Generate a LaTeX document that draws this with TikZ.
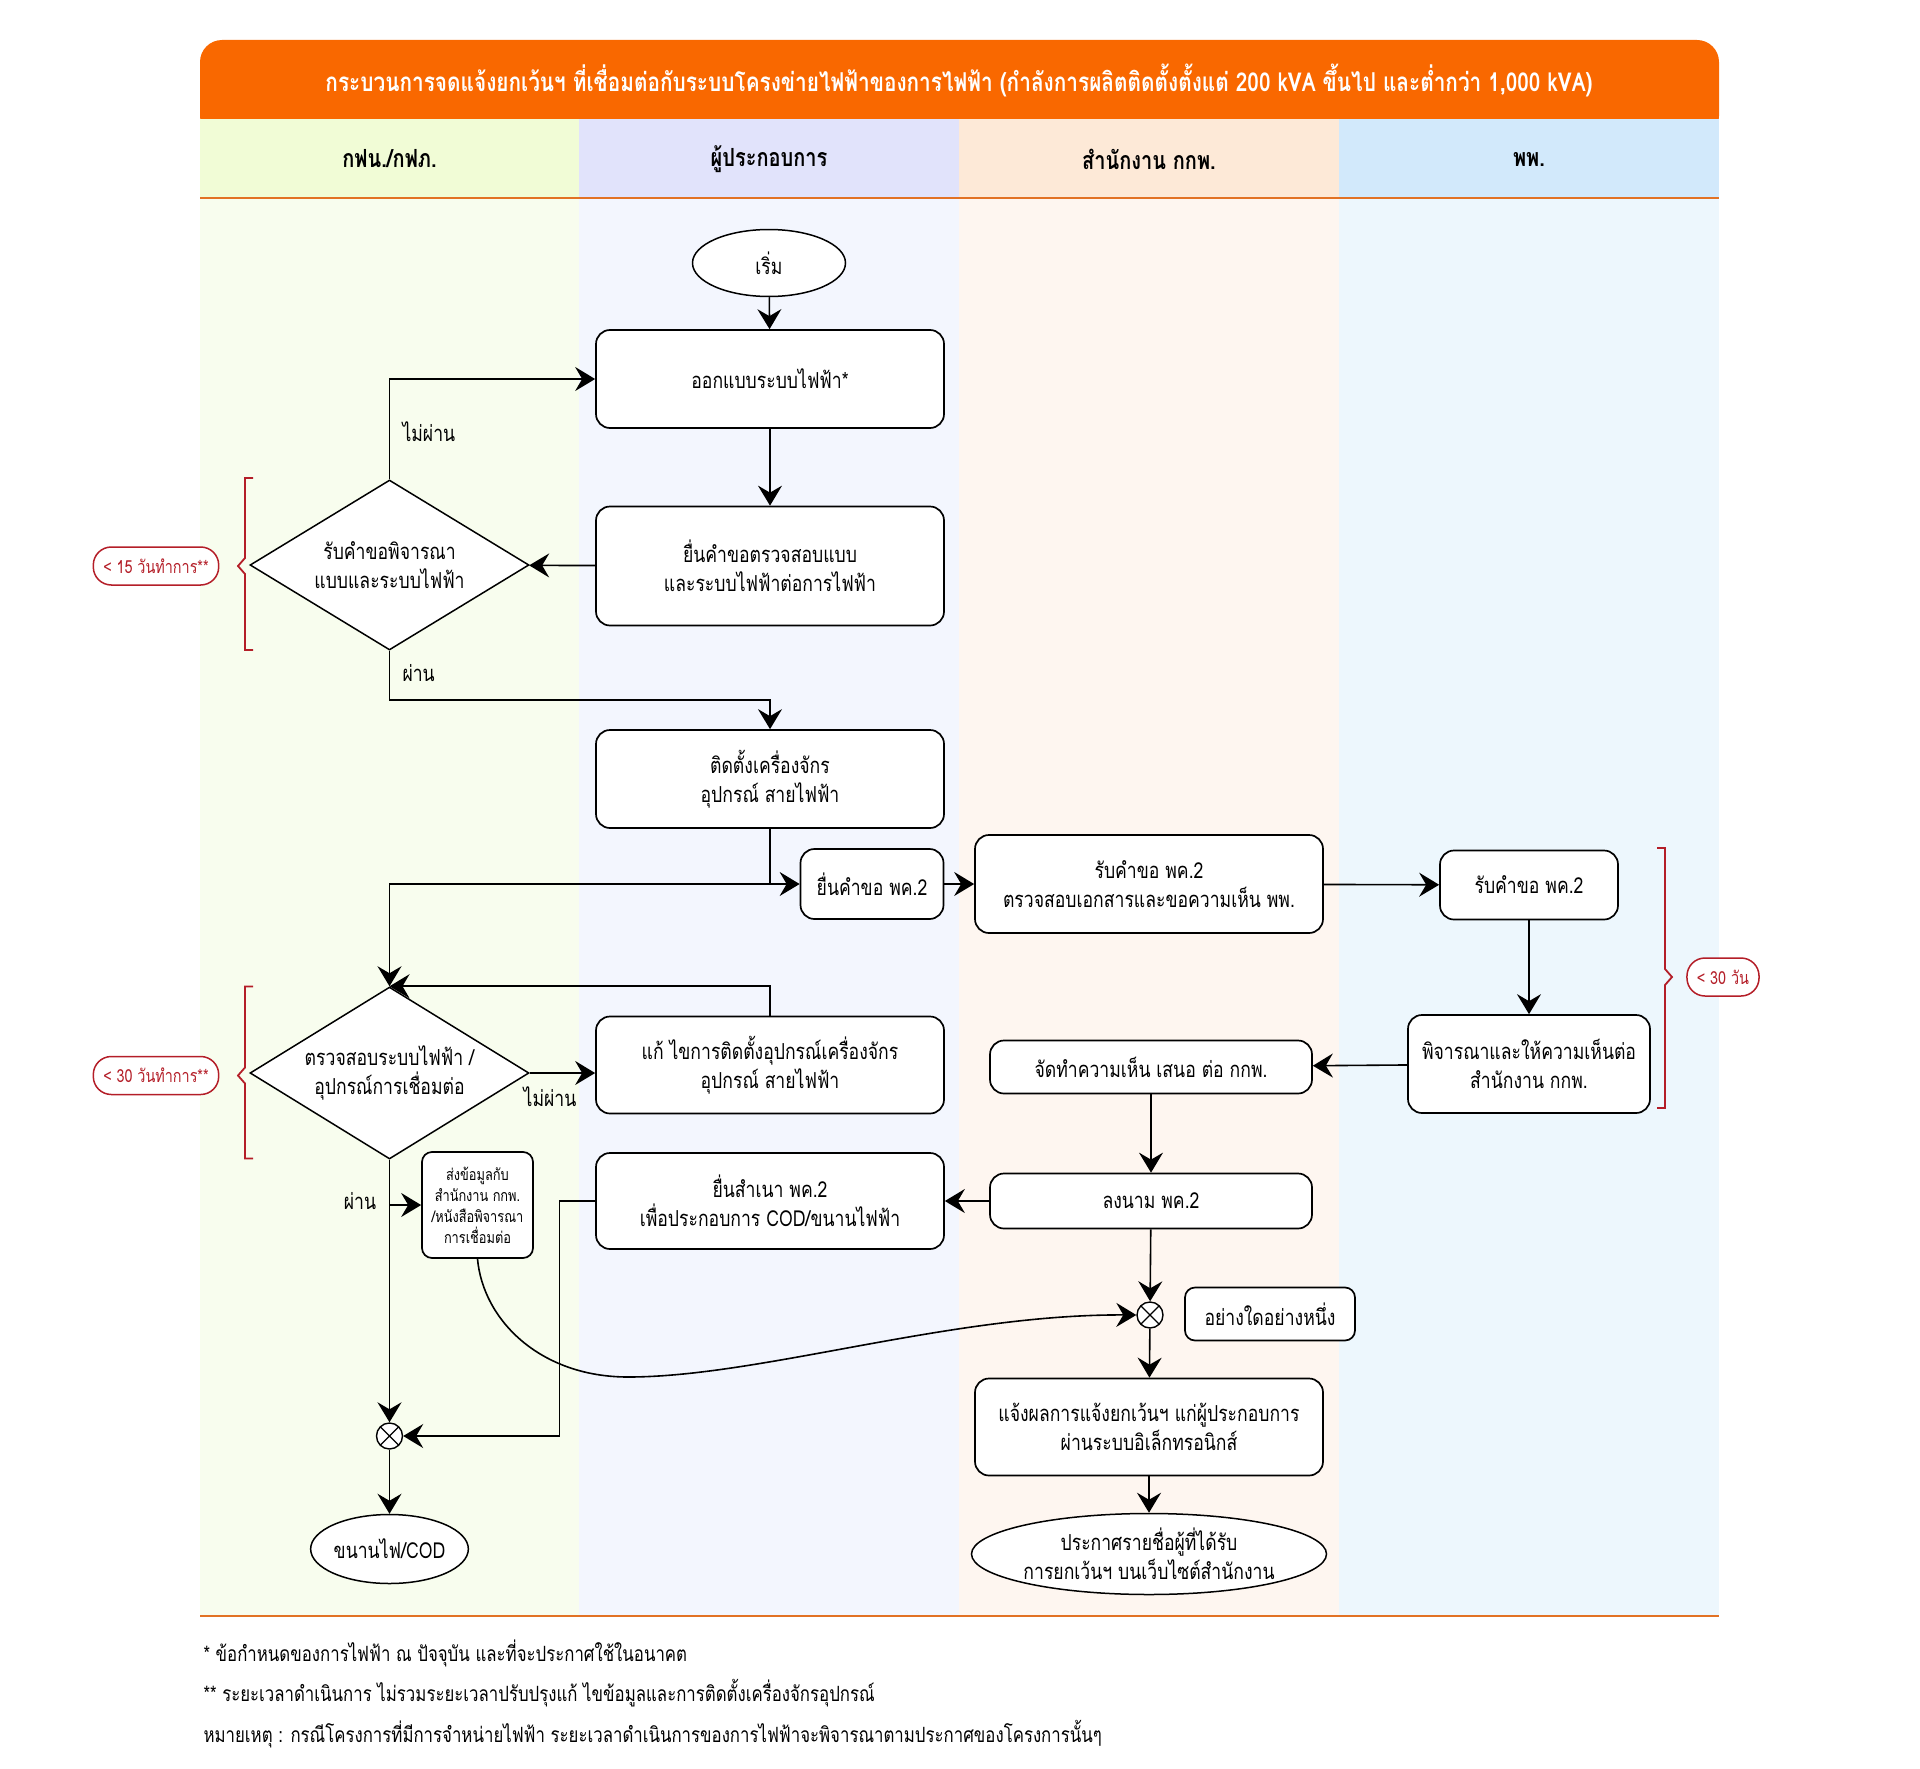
\documentclass[tikz,border=0pt]{standalone}
\usepackage{fontspec}
\setmainfont[Script=Thai, FakeStretch=0.8]{Loma}
\usepackage{xcolor}
\usetikzlibrary{arrows.meta,positioning,calc,shapes.geometric}
\definecolor{hdrorange}{RGB}{249,104,0}
\definecolor{lineorange}{RGB}{226,114,36}
\definecolor{laneAhead}{RGB}{241,252,214}
\definecolor{laneAbody}{RGB}{248,253,238}
\definecolor{laneBhead}{RGB}{225,227,251}
\definecolor{laneBbody}{RGB}{243,246,254}
\definecolor{laneChead}{RGB}{253,233,215}
\definecolor{laneCbody}{RGB}{254,246,240}
\definecolor{laneDhead}{RGB}{210,233,251}
\definecolor{laneDbody}{RGB}{237,247,253}
\definecolor{noteRed}{RGB}{180,30,40}
\newcommand{\boxfont}{\fontsize{22}{29}\selectfont}

\begin{document}
\begin{tikzpicture}[x=1pt, y=-1pt,
  block/.style={draw, rounded corners=14pt, line width=1.7pt, fill=white,
    align=center, inner sep=2pt, font=\boxfont},
  decision/.style={draw, diamond, aspect=1.64, line width=1.5pt,
    fill=white, inner sep=0pt, align=center, font=\boxfont},
  terminal/.style={draw, ellipse, line width=1.5pt, fill=white,
    inner sep=0pt, align=center, font=\boxfont},
  merge/.style={draw, circle, line width=1.4pt, fill=white,
    minimum size=26pt, inner sep=0pt,
    path picture={\draw[line width=1.2pt]
      (path picture bounding box.north west) -- (path picture bounding box.south east)
      (path picture bounding box.north east) -- (path picture bounding box.south west);}},
  daynote/.style={draw=noteRed, text=noteRed, rounded corners=18pt,
    line width=1.5pt, fill=white, minimum height=38pt, inner xsep=10pt,
    font=\fontsize{18}{20}\selectfont},
  brace/.style={draw=noteRed, line width=1.8pt},
  lanehead/.style={font=\bfseries\fontsize{25}{28}\selectfont},
  lbl/.style={font=\boxfont},
  note/.style={anchor=west, font=\fontsize{21}{24}\selectfont},
  arr/.style={-{Stealth[length=20pt, width=24pt, inset=7pt]}, line width=1.6pt},
]
  \useasboundingbox (0,0) rectangle (1920,1769);

  % header and swimlanes
  \fill[hdrorange, rounded corners=22pt] (200,40) rectangle (1719,138);
  \fill[laneAhead] (200,119) rectangle (579,198);
  \fill[laneBhead] (579,119) rectangle (959,198);
  \fill[laneChead] (959,119) rectangle (1339,198);
  \fill[laneDhead] (1339,119) rectangle (1719,198);
  \fill[laneAbody] (200,198) rectangle (579,1616);
  \fill[laneBbody] (579,198) rectangle (959,1616);
  \fill[laneCbody] (959,198) rectangle (1339,1616);
  \fill[laneDbody] (1339,198) rectangle (1719,1616);
  \draw[lineorange, line width=2pt] (200,198) -- (1719,198);
  \draw[lineorange, line width=2pt] (200,1616) -- (1719,1616);
  \node[text=white, font=\bfseries\fontsize{26}{30}\selectfont] (title) at (959,80)
    {กระบวนการจดแจ้งยกเว้นฯ ที่เชื่อมต่อกับระบบโครงข่ายไฟฟ้าของการไฟฟ้า (กำลังการผลิตติดตั้งตั้งแต่ 200 kVA ขึ้นไป และต่ำกว่า 1,000 kVA)};
  \node[lanehead] (laneA) at (389.5,159) {กฟน./กฟภ.};
  \node[lanehead] (laneB) at (769,159) {ผู้ประกอบการ};
  \node[lanehead] (laneC) at (1149,159) {สำนักงาน กกพ.};
  \node[lanehead] (laneD) at (1529,159) {พพ.};

  % design check (top)
  \node[terminal, minimum width=153pt, minimum height=67pt] (start) at (769,263) {เริ่ม};
  \node[block, minimum width=348pt, minimum height=98pt] (design) at (770,379)
    {ออกแบบระบบไฟฟ้า*};
  \node[block, minimum width=348pt, minimum height=119pt] (submit) at (770,566)
    {ยื่นคำขอตรวจสอบแบบ\\และระบบไฟฟ้าต่อการไฟฟ้า};
  \node[decision, minimum width=279pt, minimum height=170pt] (dec1) at (389.5,565)
    {รับคำขอพิจารณา\\แบบและระบบไฟฟ้า};
  \node[daynote] (days15) at (156,566) {< 15 วันทำการ**};
  \draw[brace] (253,478) -- (245,478) -- (245,558) -- (238,566) -- (245,574)
    -- (245,650) -- (253,650);
  \draw[arr] (start) -- (design);
  \draw[arr] (design) -- (submit);
  \draw[arr] (submit) -- (dec1);
  \draw[arr] (dec1.north) |- (design.west);
  \node[lbl, anchor=west] (fail1) at (399,432) {ไม่ผ่าน};
  \node[block, minimum width=348pt, minimum height=98pt] (install) at (770,779)
    {ติดตั้งเครื่องจักร\\อุปกรณ์ สายไฟฟ้า};
  \coordinate (pass1) at (389.5,700);
  \draw[arr] (dec1.south) -- (pass1) -| (install.north);
  \node[lbl, anchor=west] (ok1) at (399,673) {ผ่าน};

  % PK.2 request
  \node[block, minimum width=143pt, minimum height=70pt] (req) at (872,884) {ยื่นคำขอ พค.2};
  \node[block, minimum width=348pt, minimum height=98pt] (recv) at (1149,884)
    {รับคำขอ พค.2\\ตรวจสอบเอกสารและขอความเห็น พพ.};
  \node[block, minimum width=178pt, minimum height=69pt] (recvdede) at (1529,885)
    {รับคำขอ พค.2};
  \node[block, minimum width=242pt, minimum height=98pt] (consider) at (1529,1064)
    {พิจารณาและให้ความเห็นต่อ\\สำนักงาน กกพ.};
  \node[block, minimum width=322pt, minimum height=53pt] (opinion) at (1151,1067)
    {จัดทำความเห็น เสนอ ต่อ กกพ.};
  \node[block, minimum width=322pt, minimum height=55pt] (sign) at (1151,1201)
    {ลงนาม พค.2};
  \node[block, minimum width=348pt, minimum height=96pt] (copy) at (770,1201)
    {ยื่นสำเนา พค.2\\เพื่อประกอบการ COD/ขนานไฟฟ้า};
  \node[daynote] (days30b) at (1723,977) {< 30 วัน};
  \draw[brace] (1657,848) -- (1665,848) -- (1665,969) -- (1672,977) -- (1665,985)
    -- (1665,1108) -- (1657,1108);
  \coordinate (split) at (770,884);
  \draw[arr] (install.south) -- (split) -- (req.west);
  \draw[arr] (req) -- (recv);
  \draw[arr] (recv) -- (recvdede);
  \draw[arr] (recvdede) -- (consider);
  \draw[arr] (consider) -- (opinion);
  \draw[arr] (opinion) -- (sign);
  \draw[arr] (sign) -- (copy);

  % system check (bottom)
  \node[decision, minimum width=279pt, minimum height=172pt] (dec2) at (389.5,1073)
    {ตรวจสอบระบบไฟฟ้า /\\อุปกรณ์การเชื่อมต่อ};
  \node[daynote] (days30a) at (156,1075.5) {< 30 วันทำการ**};
  \draw[brace] (253,986.5) -- (245,986.5) -- (245,1067.5) -- (238,1075.5)
    -- (245,1083.5) -- (245,1158.5) -- (253,1158.5);
  \draw[arr] (split) -| (dec2.north);
  \node[block, minimum width=348pt, minimum height=97pt] (fix) at (770,1065)
    {แก้ ไขการติดตั้งอุปกรณ์เครื่องจักร\\อุปกรณ์ สายไฟฟ้า};
  \draw[arr] (dec2.east) -- (fix.west |- dec2.east);
  \node[lbl] (fail2) at (550,1097) {ไม่ผ่าน};
  \draw[arr] (fix.north) |- (dec2.north);
  \node[block, rounded corners=10pt, minimum width=111pt, minimum height=106pt,
    inner sep=1pt, font=\fontsize{16}{21}\selectfont] (senddata) at (477.5,1205)
    {ส่งข้อมูลกับ\\สำนักงาน กกพ.\\/หนังสือพิจารณา\\การเชื่อมต่อ};
  \node[merge] (or1) at (389.5,1436) {};
  \node[terminal, minimum width=153pt, minimum height=69pt] (cod) at (389.5,1549)
    {ขนานไฟ/COD};
  \draw[arr] (dec2.south) -- (or1);
  \draw[arr] (dec2.south |- senddata.west) -- (senddata.west);
  \node[lbl] (ok2) at (360,1201) {ผ่าน};
  \coordinate (copybend) at (559.5,1201);
  \draw[arr] (copy.west) -- (copybend) |- (or1.east);
  \draw[arr] (or1) -- (cod);

  % notification
  \node[merge] (or2) at (1150,1315) {};
  \node[block, rounded corners=10pt, minimum width=170pt, minimum height=53pt]
    (either) at (1270,1314) {อย่างใดอย่างหนึ่ง};
  \node[block, minimum width=348pt, minimum height=97pt] (notify) at (1149,1427)
    {แจ้งผลการแจ้งยกเว้นฯ แก่ผู้ประกอบการ\\ผ่านระบบอิเล็กทรอนิกส์};
  \node[terminal, minimum width=348pt, minimum height=81pt] (announce) at (1149,1554)
    {ประกาศรายชื่อผู้ที่ได้รับ\\การยกเว้นฯ บนเว็บไซต์สำนักงาน};
  \draw[arr] (sign) -- (or2);
  \draw[arr] (senddata.south) .. controls (483,1320) and (540,1377) .. (628,1377)
    .. controls (760,1377) and (950,1314) .. (or2.west);
  \draw[arr] (or2) -- (notify);
  \draw[arr] (notify) -- (announce);

  % footnotes
  \node[note] (fn1) at (200,1653) {* ข้อกำหนดของการไฟฟ้า ณ ปัจจุบัน และที่จะประกาศใช้ในอนาคต};
  \node[note] (fn2) at (200,1693)
    {** ระยะเวลาดำเนินการ ไม่รวมระยะเวลาปรับปรุงแก้ ไขข้อมูลและการติดตั้งเครื่องจักรอุปกรณ์};
  \node[note] (fn3) at (200,1734)
    {หมายเหตุ : กรณีโครงการที่มีการจำหน่ายไฟฟ้า ระยะเวลาดำเนินการของการไฟฟ้าจะพิจารณาตามประกาศของโครงการนั้นๆ};
\end{tikzpicture}
\end{document}
